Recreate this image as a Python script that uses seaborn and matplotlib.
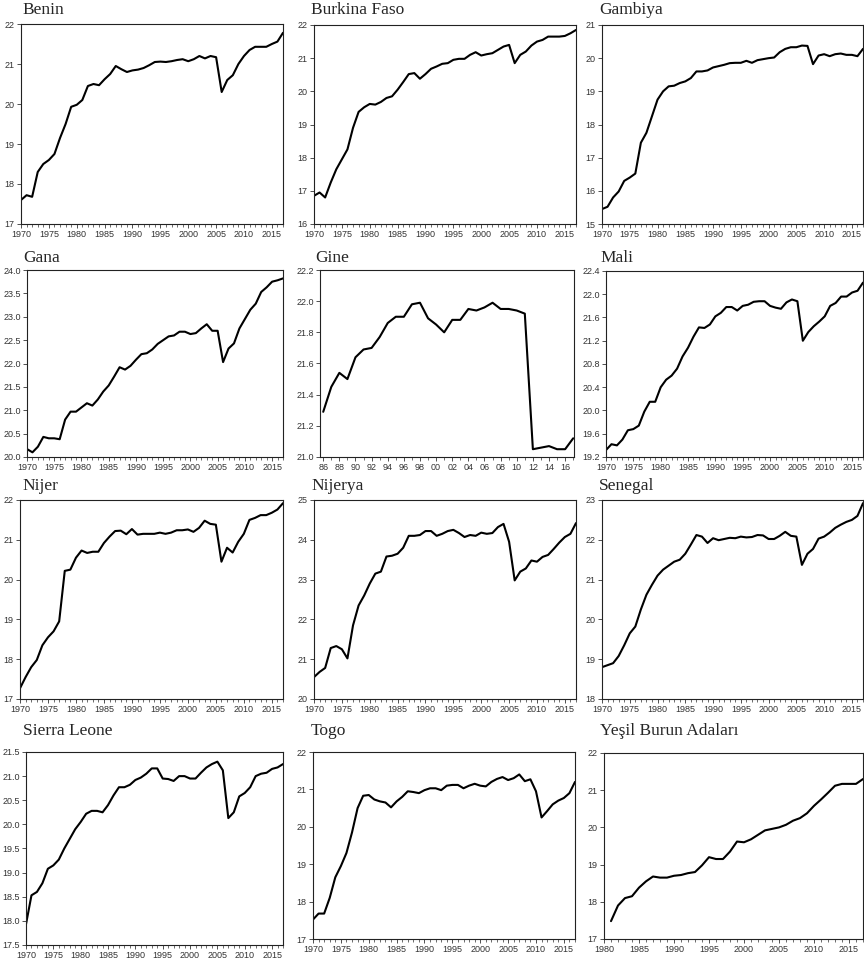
import numpy as np
import pandas as pd
import seaborn as sns
import matplotlib.pyplot as plt
from matplotlib.ticker import MultipleLocator, FuncFormatter

years = np.arange(1970, 2018)
years_gine = np.arange(1986, 2018)
years_yesil = np.arange(1981, 2018)

benin = [17.6, 17.72, 17.68, 18.3, 18.5, 18.6, 18.75, 19.15, 19.5, 19.93,
         19.98, 20.1, 20.45, 20.5, 20.47, 20.62, 20.75, 20.95, 20.87, 20.8,
         20.84, 20.86, 20.9, 20.97, 21.05, 21.06, 21.05, 21.07, 21.1, 21.12,
         21.07, 21.12, 21.2, 21.14, 21.2, 21.17, 20.3, 20.6, 20.72, 21.0,
         21.2, 21.35, 21.43, 21.43, 21.43, 21.5, 21.56, 21.78]
burkina = [16.85, 16.95, 16.8, 17.25, 17.65, 17.95, 18.25, 18.9, 19.38, 19.52,
           19.62, 19.6, 19.68, 19.8, 19.85, 20.05, 20.28, 20.52, 20.55, 20.38,
           20.52, 20.68, 20.75, 20.83, 20.85, 20.95, 20.98, 20.98, 21.1, 21.18,
           21.08, 21.12, 21.15, 21.25, 21.35, 21.4, 20.85, 21.1, 21.2, 21.38,
           21.5, 21.55, 21.65, 21.65, 21.65, 21.67, 21.75, 21.85]
gambiya = [15.45, 15.52, 15.8, 15.98, 16.3, 16.4, 16.52, 17.45, 17.75, 18.25,
           18.75, 19.0, 19.15, 19.17, 19.25, 19.3, 19.4, 19.6, 19.6, 19.63,
           19.72, 19.76, 19.8, 19.85, 19.86, 19.86, 19.92, 19.86, 19.94, 19.97,
           20.0, 20.02, 20.18, 20.28, 20.33, 20.33, 20.38, 20.37, 19.82, 20.08,
           20.12, 20.06, 20.12, 20.14, 20.1, 20.1, 20.06, 20.28]
gana = [20.17, 20.1, 20.22, 20.43, 20.4, 20.4, 20.38, 20.8, 20.97, 20.97,
        21.06, 21.15, 21.1, 21.23, 21.4, 21.53, 21.72, 21.92, 21.87, 21.95,
        22.08, 22.2, 22.22, 22.3, 22.42, 22.5, 22.58, 22.6, 22.68, 22.68,
        22.63, 22.65, 22.75, 22.84, 22.7, 22.7, 22.03, 22.32, 22.43, 22.75,
        22.95, 23.15, 23.28, 23.53, 23.63, 23.75, 23.78, 23.82]
gine = [21.29, 21.45, 21.54, 21.5, 21.64, 21.69, 21.7, 21.77, 21.86, 21.9,
        21.9, 21.98, 21.99, 21.89, 21.85, 21.8, 21.88, 21.88, 21.95, 21.94,
        21.96, 21.99, 21.95, 21.95, 21.94, 21.92, 21.05, 21.06, 21.07, 21.05,
        21.05, 21.12]
mali = [19.32, 19.42, 19.4, 19.5, 19.66, 19.68, 19.74, 19.98, 20.15, 20.15,
        20.4, 20.53, 20.6, 20.72, 20.93, 21.08, 21.27, 21.43, 21.42, 21.48,
        21.62, 21.68, 21.78, 21.78, 21.72, 21.8, 21.82, 21.87, 21.88, 21.88,
        21.8, 21.77, 21.75, 21.86, 21.91, 21.88, 21.2, 21.35, 21.45, 21.53,
        21.62, 21.8, 21.85, 21.96, 21.96, 22.03, 22.06, 22.2]
nijer = [17.27, 17.55, 17.8, 17.98, 18.35, 18.55, 18.7, 18.95, 20.22, 20.25,
         20.55, 20.73, 20.67, 20.7, 20.7, 20.92, 21.08, 21.22, 21.23, 21.14,
         21.27, 21.13, 21.15, 21.15, 21.15, 21.18, 21.15, 21.18, 21.24, 21.24,
         21.26, 21.2, 21.3, 21.48, 21.4, 21.38, 20.45, 20.8, 20.68, 20.95,
         21.15, 21.5, 21.55, 21.62, 21.62, 21.68, 21.76, 21.92]
nijerya = [20.55, 20.68, 20.78, 21.28, 21.33, 21.25, 21.02, 21.85, 22.35, 22.6,
           22.9, 23.15, 23.2, 23.58, 23.6, 23.65, 23.8, 24.1, 24.1, 24.12,
           24.22, 24.22, 24.1, 24.15, 24.22, 24.25, 24.17, 24.07, 24.12, 24.1,
           24.18, 24.15, 24.17, 24.32, 24.4, 23.95, 22.98, 23.2, 23.28, 23.48,
           23.45, 23.57, 23.62, 23.77, 23.93, 24.07, 24.15, 24.42]
senegal = [18.8, 18.85, 18.9, 19.08, 19.35, 19.65, 19.82, 20.25, 20.62, 20.87,
           21.1, 21.25, 21.35, 21.45, 21.5, 21.65, 21.88, 22.12, 22.08, 21.92,
           22.04, 21.99, 22.02, 22.05, 22.04, 22.08, 22.06, 22.07, 22.12, 22.11,
           22.02, 22.02, 22.1, 22.2, 22.1, 22.08, 21.37, 21.65, 21.77, 22.03,
           22.08, 22.18, 22.3, 22.38, 22.45, 22.5, 22.6, 22.92]
sierra = [17.93, 18.53, 18.6, 18.78, 19.08, 19.15, 19.27, 19.5, 19.7, 19.9,
          20.05, 20.22, 20.28, 20.28, 20.25, 20.4, 20.6, 20.77, 20.77, 20.82,
          20.92, 20.97, 21.05, 21.16, 21.16, 20.95, 20.94, 20.9, 21.0, 21.0,
          20.95, 20.95, 21.07, 21.18, 21.25, 21.3, 21.12, 20.13, 20.25, 20.58,
          20.65, 20.77, 21.0, 21.05, 21.07, 21.15, 21.18, 21.25]
togo = [17.52, 17.68, 17.68, 18.1, 18.65, 18.95, 19.3, 19.85, 20.5, 20.83,
        20.85, 20.73, 20.68, 20.65, 20.52, 20.68, 20.8, 20.95, 20.93, 20.9,
        20.98, 21.03, 21.03, 20.98, 21.1, 21.12, 21.12, 21.03, 21.1, 21.15,
        21.1, 21.08, 21.2, 21.28, 21.33, 21.25, 21.3, 21.4, 21.22, 21.27,
        20.95, 20.25, 20.42, 20.6, 20.7, 20.77, 20.9, 21.2]
yesil = [17.48, 17.9, 18.1, 18.15, 18.38, 18.55, 18.68, 18.65, 18.65, 18.7,
         18.72, 18.77, 18.8, 18.98, 19.2, 19.15, 19.15, 19.35, 19.62, 19.6,
         19.68, 19.8, 19.92, 19.96, 20.0, 20.07, 20.18, 20.25, 20.38, 20.58,
         20.75, 20.93, 21.12, 21.17, 21.17, 21.17, 21.3]

names = ['Benin', 'Burkina Faso', 'Gambiya', 'Gana', 'Gine', 'Mali',
         'Nijer', 'Nijerya', 'Senegal', 'Sierra Leone', 'Togo', 'Yeşil Burun Adaları']
series = [benin, burkina, gambiya, gana, gine, mali,
          nijer, nijerya, senegal, sierra, togo, yesil]
xs = [years, years, years, years, years_gine, years,
      years, years, years, years, years, years_yesil]

# y axis ranges / steps
ylims = [(17, 22, 1), (16, 22, 1), (15, 21, 1), (20, 24, 0.5), (21, 22.2, 0.2), (19.2, 22.4, 0.4),
         (17, 22, 1), (20, 25, 1), (18, 23, 1), (17.5, 21.5, 0.5), (17, 22, 1), (17, 22, 1)]

sns.set_style('ticks')
plt.rcParams['font.family'] = ['Liberation Sans Narrow', 'Liberation Sans', 'DejaVu Sans']

W, H = 864, 959
fig = plt.figure(figsize=(W / 100, H / 100), dpi=100)

# axes boxes in pixels: left, right, top, bottom
boxes = [(21, 283, 24, 224), (314, 576, 25, 224), (602, 863, 25, 224),
         (27, 283, 270, 457), (320, 574, 270, 457), (606, 863, 271, 457),
         (20, 283, 500, 699), (314, 576, 500, 699), (602, 863, 500, 699),
         (26, 283, 752, 945), (313, 575, 752, 939), (604, 863, 753, 939)]
title_x = [22, 311, 599, 23, 315, 600, 22, 311, 599, 23, 311, 600]
title_y = [10, 10, 10, 258, 258, 258, 486, 486, 486, 731, 731, 731]

for i in range(12):
    l, r, t, b = boxes[i]
    ax = fig.add_axes([l / W, 1 - b / H, (r - l) / W, (b - t) / H])
    df = pd.DataFrame({'year': xs[i], 'value': series[i]})
    sns.lineplot(data=df, x='year', y='value', ax=ax, color='black', linewidth=1.5)

    lo, hi, step = ylims[i]
    ax.set_ylim(lo, hi)
    ax.yaxis.set_major_locator(MultipleLocator(step))
    if step < 1:
        ax.yaxis.set_major_formatter(FuncFormatter(lambda v, p: f'{v:.1f}'))
    else:
        ax.yaxis.set_major_formatter(FuncFormatter(lambda v, p: f'{v:.0f}'))

    if names[i] == 'Gine':
        ax.set_xlim(1985.6, 2017.1)
        ax.xaxis.set_major_locator(MultipleLocator(2))
        ax.xaxis.set_major_formatter(FuncFormatter(lambda v, p: f'{int(round(v)) % 100:02d}'))
    elif names[i] == 'Yeşil Burun Adaları':
        ax.set_xlim(1980, 2017)
        ax.xaxis.set_major_locator(MultipleLocator(5))
        ax.xaxis.set_major_formatter(FuncFormatter(lambda v, p: f'{int(round(v))}'))
    else:
        ax.set_xlim(1970, 2017)
        ax.xaxis.set_major_locator(MultipleLocator(5))
        ax.xaxis.set_major_formatter(FuncFormatter(lambda v, p: f'{int(round(v))}'))
    ax.xaxis.set_minor_locator(MultipleLocator(1))

    ax.set_xlabel('')
    ax.set_ylabel('')
    ax.tick_params(axis='both', which='major', direction='out', length=3, width=0.6,
                   labelsize=6.5, labelcolor='#333333', color='#333333', pad=1.5,
                   bottom=True, left=True, top=False, right=False)
    ax.tick_params(axis='x', which='minor', direction='out', length=2, width=0.5,
                   color='#333333', bottom=True)
    for s in ax.spines.values():
        s.set_visible(True)
        s.set_color('#222222')
        s.set_linewidth(0.8)

    fig.text(title_x[i] / W, 1 - title_y[i] / H, names[i], ha='left', va='center',
             fontsize=12.5, family=['Liberation Serif', 'DejaVu Serif'])

fig.savefig('out.png', dpi=100, facecolor='white')
